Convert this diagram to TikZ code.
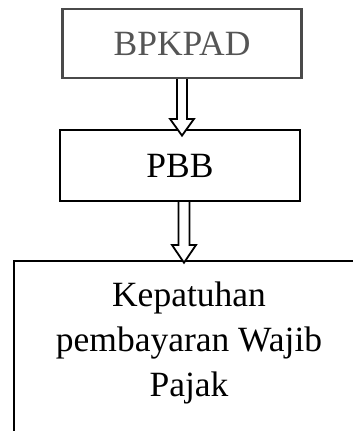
\documentclass[tikz,border=0pt]{standalone}
\usepackage{fontspec}
\setmainfont{Liberation Serif}
\definecolor{boxgray}{HTML}{4A4A4A}
\definecolor{textgray}{HTML}{555555}
\begin{document}
\begin{tikzpicture}[x=1pt,y=-1pt,
  bigfont/.style={font=\fontsize{35.5}{45}\selectfont},
  boxnode/.style={draw, line width=2.2pt, inner sep=0pt, bigfont},
  fatarrow/.style={draw=black, fill=white, line width=1.8pt, line join=miter}]
\useasboundingbox (0,0) rectangle (353,431);
\clip (0,0) rectangle (353,431);
\fill[white] (0,0) rectangle (353,431);

\node (bpkpad) [boxnode, draw=boxgray, text=textgray, minimum width=239pt, minimum height=69pt] at (182,43.5) {BPKPAD};
\node (pbb) [boxnode, minimum width=240pt, minimum height=71pt] at (180,165.5) {PBB};
\node (kep) [boxnode, anchor=north west, minimum width=352pt, minimum height=250pt] at (13,259.5) {};
\node (keptext) [bigfont, align=center, inner sep=0pt] at (189,343) {Kepatuhan\\pembayaran Wajib\\Pajak};

\coordinate (a1) at (bpkpad.south |- pbb.north);
\draw[fatarrow] ([xshift=-5pt]bpkpad.south) -- ([xshift=-5pt,yshift=10pt]a1) -- ([xshift=-12pt,yshift=10pt]a1) -- ([yshift=-6.7pt]a1) -- ([xshift=12pt,yshift=10pt]a1) -- ([xshift=5pt,yshift=10pt]a1) -- ([xshift=5pt]bpkpad.south);

\coordinate (b2) at ([xshift=4pt]pbb.south);
\coordinate (a2) at (b2 |- kep.north);
\draw[fatarrow] ([xshift=-5.5pt]b2) -- ([xshift=-5.5pt,yshift=14.5pt]a2) -- ([xshift=-12pt,yshift=14.5pt]a2) -- ([yshift=-3.2pt]a2) -- ([xshift=12pt,yshift=14.5pt]a2) -- ([xshift=5.5pt,yshift=14.5pt]a2) -- ([xshift=5.5pt]b2);
\end{tikzpicture}
\end{document}
